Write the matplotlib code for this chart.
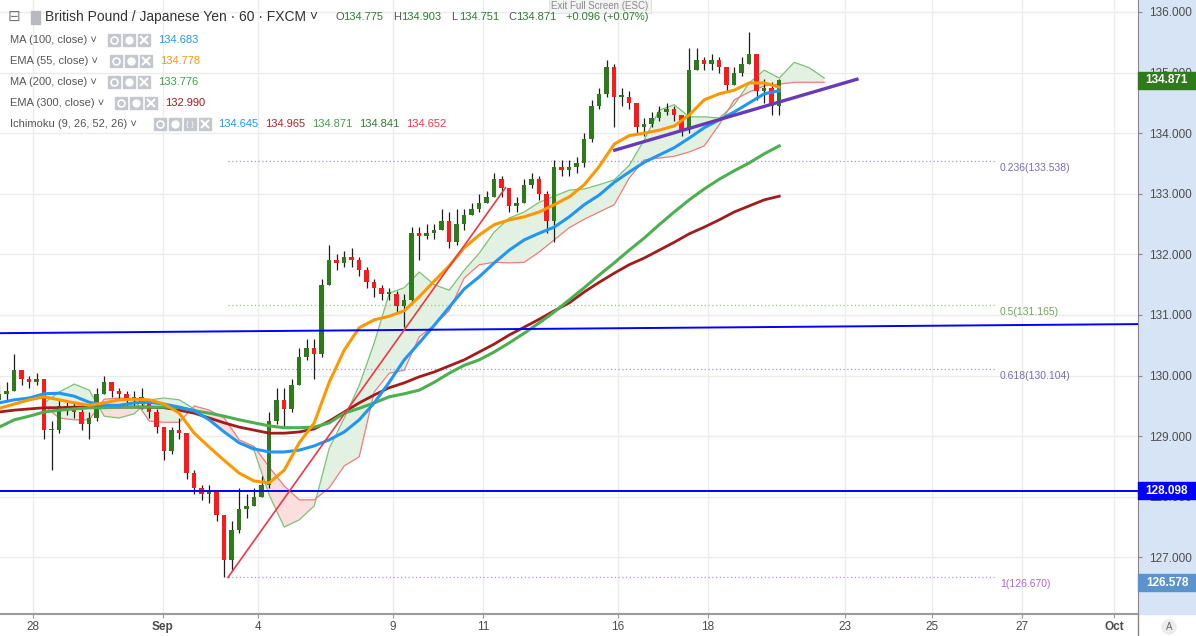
import numpy as np
import matplotlib.pyplot as plt
from matplotlib.patches import Rectangle
from matplotlib import transforms

plt.rcParams['font.family'] = ['Liberation Sans', 'DejaVu Sans']

W, H = 1196, 636

# GBP/JPY, grouped into 4 hour candles
# time is in trading days counted from Sep 4
bar_t0 = -5.75
bar_dt = 1 / 6
first_open = 129.60
close = [129.70, 129.75, 130.10, 129.95, 129.90, 129.95, 129.10, 129.10, 129.50, 129.45,
         129.40, 129.20, 129.30, 129.70, 129.90, 129.75, 129.70, 129.60, 129.65, 129.55,
         129.40, 129.15, 128.75, 129.10, 129.05, 128.40, 128.15, 128.05, 128.10, 127.70,
         126.95, 127.45, 127.80, 127.85, 128.00, 128.20, 129.25, 129.60, 129.45, 129.85,
         130.30, 130.45, 130.35, 131.50, 131.90, 131.85, 131.95, 131.90, 131.75, 131.55,
         131.45, 131.35, 131.35, 131.15, 131.25, 132.35, 132.30, 132.35, 132.40, 132.55,
         132.20, 132.50, 132.65, 132.75, 132.85, 132.95, 133.25, 133.10, 132.80, 132.85,
         133.15, 133.25, 133.00, 132.55, 133.45, 133.40, 133.45, 133.50, 133.90, 134.45,
         134.65, 135.10, 134.60, 134.60, 134.50, 134.10, 134.15, 134.25, 134.35, 134.40,
         134.30, 134.05, 135.05, 135.20, 135.15, 135.20, 135.10, 134.80, 135.00, 135.15,
         135.30, 134.70, 134.75, 134.45, 134.87]
high = [129.85, 129.90, 130.35, 130.10, 130.00, 130.05, 129.95, 129.25, 129.60, 129.60,
        129.55, 129.45, 129.40, 129.80, 130.00, 129.90, 129.80, 129.75, 129.75, 129.80,
        129.60, 129.45, 129.15, 129.15, 129.30, 129.05, 128.45, 128.20, 128.20, 128.10,
        127.70, 127.60, 128.15, 128.05, 128.15, 128.35, 129.40, 129.80, 129.80, 129.95,
        130.45, 130.60, 130.60, 131.60, 132.15, 132.00, 132.05, 132.10, 131.95, 131.80,
        131.60, 131.50, 131.45, 131.40, 131.35, 132.45, 132.45, 132.50, 132.50, 132.75,
        132.70, 132.75, 132.75, 132.85, 133.00, 133.05, 133.35, 133.30, 133.10, 132.95,
        133.25, 133.35, 133.30, 133.05, 133.55, 133.55, 133.55, 133.60, 134.00, 134.55,
        134.75, 135.20, 135.15, 134.75, 134.70, 134.45, 134.25, 134.35, 134.45, 134.50,
        134.45, 134.30, 135.40, 135.40, 135.25, 135.30, 135.25, 135.10, 135.10, 135.25,
        135.67, 135.30, 134.90, 134.85, 134.90]
low = [129.55, 129.60, 129.75, 129.85, 129.80, 129.85, 128.95, 128.45, 129.05, 129.35,
       129.30, 129.10, 128.95, 129.25, 129.70, 129.65, 129.60, 129.50, 129.50, 129.45,
       129.30, 129.05, 128.60, 128.70, 128.95, 128.30, 128.05, 127.95, 127.90, 127.60,
       126.67, 126.80, 127.40, 127.65, 127.85, 128.00, 128.15, 129.20, 129.15, 129.40,
       129.85, 130.25, 129.95, 130.30, 131.50, 131.75, 131.80, 131.80, 131.65, 131.45,
       131.30, 131.25, 131.25, 131.05, 130.80, 131.20, 131.90, 132.25, 132.25, 132.40,
       132.10, 132.15, 132.40, 132.65, 132.70, 132.85, 132.95, 132.95, 132.70, 132.70,
       132.85, 133.10, 132.90, 132.35, 132.20, 133.30, 133.30, 133.35, 133.45, 133.85,
       134.40, 134.60, 134.10, 134.45, 134.40, 134.00, 133.95, 134.10, 134.20, 134.30,
       134.20, 133.95, 134.00, 135.05, 135.05, 135.05, 135.00, 134.70, 134.80, 134.95,
       135.15, 134.55, 134.50, 134.30, 134.30]

# moving averages, one value every 8 hours from the first candle
ma_t0 = -5.75
ma_dt = 1 / 3
ma100 = [129.55, 129.60, 129.63, 129.70, 129.71, 129.66, 129.56, 129.51, 129.51, 129.55,
         129.56, 129.53, 129.48, 129.42, 129.27, 129.07, 128.89, 128.79, 128.74, 128.74,
         128.77, 128.84, 128.94, 129.07, 129.27, 129.55, 129.89, 130.26, 130.54, 130.83,
         131.13, 131.43, 131.63, 131.86, 132.07, 132.24, 132.35, 132.45, 132.62, 132.82,
         132.98, 133.19, 133.36, 133.52, 133.64, 133.76, 133.92, 134.09, 134.22, 134.35,
         134.50, 134.65, 134.70]
ema55 = [129.46, 129.53, 129.60, 129.65, 129.60, 129.55, 129.51, 129.55, 129.60, 129.61,
         129.60, 129.53, 129.38, 129.05, 128.82, 128.60, 128.39, 128.26, 128.23, 128.44,
         128.89, 129.22, 129.89, 130.42, 130.79, 130.92, 130.98, 131.07, 131.30, 131.56,
         131.81, 132.11, 132.32, 132.49, 132.57, 132.62, 132.70, 132.82, 132.95, 133.15,
         133.45, 133.82, 133.96, 134.00, 134.05, 134.12, 134.30, 134.55, 134.65, 134.71,
         134.83, 134.83, 134.76]
ma200 = [129.15, 129.27, 129.33, 129.40, 129.43, 129.45, 129.47, 129.47, 129.48, 129.48,
         129.48, 129.48, 129.47, 129.42, 129.38, 129.33, 129.27, 129.22, 129.17, 129.14,
         129.14, 129.15, 129.22, 129.38, 129.46, 129.55, 129.65, 129.70, 129.76, 129.89,
         130.04, 130.17, 130.26, 130.39, 130.54, 130.70, 130.87, 131.05, 131.25, 131.45,
         131.66, 131.86, 132.07, 132.27, 132.49, 132.70, 132.90, 133.08, 133.24, 133.38,
         133.51, 133.66, 133.79]
ema300 = [129.40, 129.43, 129.45, 129.47, 129.47, 129.48, 129.48, 129.48, 129.48, 129.48,
          129.48, 129.47, 129.43, 129.38, 129.30, 129.22, 129.15, 129.10, 129.05, 129.05,
          129.07, 129.12, 129.25, 129.40, 129.55, 129.68, 129.80, 129.88, 129.98, 130.06,
          130.16, 130.26, 130.39, 130.52, 130.67, 130.80, 130.93, 131.07, 131.20, 131.38,
          131.54, 131.69, 131.83, 131.94, 132.07, 132.20, 132.34, 132.45, 132.57, 132.70,
          132.80, 132.90, 132.96]

# ichimoku cloud spans (already displaced 26 bars ahead), every 8 hours
cloud_t0 = -4.75
cloud_dt = 1 / 3
span_a = [129.55, 129.73, 129.86, 129.76, 129.33, 129.30, 129.37, 129.60, 129.63, 129.60,
          129.45, 129.27, 129.07, 128.89, 128.76, 128.03, 127.50, 127.62, 127.85, 128.80,
          129.30, 129.84, 130.54, 131.36, 131.45, 131.71, 131.50, 131.41, 131.74, 132.02,
          132.37, 132.60, 132.70, 132.86, 132.96, 133.06, 133.08, 133.15, 133.23, 133.47,
          133.89, 134.38, 134.47, 134.27, 134.27, 134.25, 134.47, 134.83, 135.04, 134.91,
          135.17, 135.08, 134.91]
span_b = [129.50, 129.30, 129.27, 129.27, 129.61, 129.63, 129.61, 129.25, 129.23, 129.23,
          129.50, 129.43, 129.30, 128.94, 128.83, 128.49, 128.18, 127.95, 127.95, 128.15,
          128.51, 128.66, 129.73, 130.04, 130.09, 130.64, 130.83, 131.07, 131.61, 131.83,
          131.87, 131.86, 131.87, 132.04, 132.24, 132.44, 132.58, 132.70, 132.82, 133.26,
          133.56, 133.59, 133.62, 133.69, 133.79, 134.14, 134.55, 134.68, 134.78, 134.81,
          134.84, 134.84, 134.84]

# hand drawn objects on the chart
support = 128.098
alert_price = 126.578
last_price = 134.871
channel_pts = [(-5.73, 130.70), (19.56, 130.85)]
red_trend = ([-0.667, 5.5], [126.67, 133.1])
purple_trend = ([7.93, 13.31], [133.72, 134.89])
fib_low, fib_high = 126.670, 135.66
fib_ratios = [0.236, 0.5, 0.618, 1]
fib_text_colors = ['#7b6cb8', '#6aab55', '#7b6cb8', '#b063dc']
fib_line_colors = ['#a596d6', '#94cc80', '#a596d6', '#b690e6']
fib_span = (-0.667, 16.38)

price_ticks = [127, 128, 129, 130, 131, 132, 133, 134, 135, 136]
date_pos = [-5.0, -2.12, 0, 3, 5, 8, 10, 13.04, 14.98, 16.98, 19.02]
date_lbl = ['28', 'Sep', '4', '9', '11', '16', '18', '23', '25', '27', 'Oct']

legend_names = ['MA (100, close)', 'EMA (55, close)', 'MA (200, close)',
                'EMA (300, close)', 'Ichimoku (9, 26, 52, 26)']
legend_values = [['134.683'], ['134.778'], ['133.776'], ['132.990'],
                 ['134.645', '134.965', '134.871', '134.841', '134.652']]
legend_colors = [['#2196f3'], ['#ff9800'], ['#43a047'], ['#a31c1c'],
                 ['#2196f3', '#a52a2a', '#43a047', '#2e7d32', '#f23645']]

fig = plt.figure(figsize=(W / 100, H / 100), dpi=100)
ax = fig.add_axes([0, 22 / H, 1138 / W, 614 / H])
ax.set_xlim(-5.733, 19.556)
ax.set_ylim(126.066, 136.198)

# grid
ax.set_axisbelow(True)
ax.grid(True, color='#ececec', lw=1)

# cloud
ct = cloud_t0 + cloud_dt * np.arange(len(span_a))
a = np.array(span_a)
b = np.array(span_b)
ax.fill_between(ct, a, b, where=a >= b, interpolate=True, color='#e3f1e2', lw=0, zorder=1)
ax.fill_between(ct, a, b, where=a < b, interpolate=True, color='#fcdede', lw=0, zorder=1)
ax.plot(ct, a, color='#7cc275', lw=0.9, zorder=2)
ax.plot(ct, b, color='#f27b7b', lw=0.9, zorder=2)

# candles
t = bar_t0 + bar_dt * np.arange(len(close))
o = np.array([first_open] + close[:-1])
c = np.array(close)
body_col = np.where(c >= o, '#2e7a1c', '#ff1a1a')
ax.vlines(t, low, high, color='#1e1e1e', lw=0.9, zorder=3)
ax.bar(t, np.maximum(np.abs(c - o), 0.025), bottom=np.minimum(o, c),
       width=bar_dt * 0.6, color=body_col, lw=0, zorder=4)

# moving averages
mt = ma_t0 + ma_dt * np.arange(len(ma100))
ax.plot(mt, ema300, color='#a31c1c', lw=2.0, zorder=5)
ax.plot(mt, ma200, color='#4caf50', lw=2.2, zorder=5)
ax.plot(mt, ma100, color='#2196f3', lw=2.2, zorder=5)
ax.plot(mt, ema55, color='#ff9800', lw=2.2, zorder=5)

# drawings
ax.axhline(support, color='#0000ff', lw=1.4, zorder=6)
ax.axline(channel_pts[0], channel_pts[1], color='#0000ff', lw=1.4, zorder=6)
ax.plot(*red_trend, color='#f23645', lw=1.2, zorder=6)
ax.plot(*purple_trend, color='#673ab7', lw=2.4, zorder=6)
for r, tc, lc in zip(fib_ratios, fib_text_colors, fib_line_colors):
    lvl = fib_high - r * (fib_high - fib_low)
    ax.hlines(lvl, fib_span[0], fib_span[1], colors=lc, linestyles=(0, (1, 2)), lw=0.9, zorder=2)
    ax.text(16.49, lvl - 0.11, f'{r:g}({lvl:.3f})', color=tc, fontsize=7.5, va='center', zorder=6)

# axes look
for s in ['top', 'left']:
    ax.spines[s].set_visible(False)
ax.spines['right'].set_color('#888888')
ax.spines['bottom'].set_color('#9b9b9b')
ax.spines['bottom'].set_linewidth(1.5)
ax.yaxis.tick_right()
ax.set_yticks(price_ticks)
ax.set_yticklabels([f'{p:.3f}' for p in price_ticks])
ax.tick_params(axis='y', length=3, width=0.8, color='#888888', pad=5,
               labelsize=8.5, labelcolor='#4c4c4c')
ax.set_xticks(date_pos)
ax.set_xticklabels(date_lbl)
ax.tick_params(axis='x', length=3, width=0.8, color='#999999', pad=2,
               labelsize=8.5, labelcolor='#4c4c4c')
for lab in ax.get_xticklabels():
    if lab.get_text() in ('Sep', 'Oct'):
        lab.set_fontweight('bold')

fig.patches.append(Rectangle((1138 / W, 22 / H), 58 / W, 614 / H, transform=fig.transFigure,
                             color='#d6e4f6', zorder=-1))

# price boxes on the scale
bt = transforms.blended_transform_factory(ax.transAxes, ax.transData)
for val, colr in [(last_price, '#2f7a1d'), (support, '#0000ff'), (alert_price, '#5b93cf')]:
    ax.add_patch(Rectangle((1.0, val - 0.14), 58 / 1138, 0.28, transform=bt, color=colr,
                           clip_on=False, zorder=8))
    ax.text(1.0 + 29 / 1138, val, f'{val:.3f}', transform=bt, ha='center', va='center',
            color='white', fontsize=8.5, fontweight='bold', zorder=9, clip_on=False)

# overlay in pixel units for header and legend
ov = fig.add_axes([0, 0, 1, 1])
ov.set_xlim(0, W)
ov.set_ylim(H, 0)
ov.axis('off')
ov.plot([1138, 1138], [614, H], color='#888888', lw=1)

ov.text(600, 6, 'Exit Full Screen (ESC)', ha='center', va='center', fontsize=7, color='#8a8a8a',
        bbox=dict(boxstyle='square,pad=0.25', fc='#f3f3f3', ec='#dddddd', lw=0.6))
ov.text(14, 17, '\u229f', ha='center', va='center', fontsize=11, color='#777777')
ov.add_patch(Rectangle((31, 11), 9, 13, color='#b7bac1'))
ov.text(45, 17, 'British Pound / Japanese Yen \u00b7 60 \u00b7 FXCM \u02c5', va='center',
        fontsize=10, color='#333333')
ohlc = [('O', '134.775', 335), ('H', '134.903', 393), ('L', '134.751', 451), ('C', '134.871', 508)]
for letter, num, x in ohlc:
    ov.text(x, 17, letter, va='center', fontsize=8, color='#555555')
    ov.text(x + 8, 17, num, va='center', fontsize=8, color='#2e7d32')
ov.text(566, 17, '+0.096 (+0.07%)', va='center', fontsize=8, color='#2e7d32')

icon_x = [108, 110, 108, 115, 154]
value_x = [158, 160, 158, 165, 218]
for k, name in enumerate(legend_names):
    y = 40 + 21 * k
    ov.text(10, y, name + ' \u02c5', va='center', fontsize=8, color='#555555')
    n_icons = 4 if k == 4 else 3
    for j in range(n_icons):
        x0 = icon_x[k] + 15 * j
        ov.add_patch(Rectangle((x0, y - 6), 12, 12, color='#c4c7ce'))
        cx = x0 + 6
        if j == 0:
            ov.plot(cx, y, 'o', ms=5, mfc='none', mec='white', mew=1.2)
        elif j == 1:
            ov.plot(cx, y, 'o', ms=5, mfc='white', mec='white')
        elif j == n_icons - 1:
            ov.plot(cx, y, 'x', ms=6, mec='white', mew=1.5)
        else:
            ov.text(cx, y, '{ }', ha='center', va='center', fontsize=6, color='white')
    for j, (v, vc) in enumerate(zip(legend_values[k], legend_colors[k])):
        ov.text(value_x[k] + 47 * j, y, v, va='center', fontsize=8, color=vc)

ov.add_patch(plt.Circle((1169, 627), 7, color='#ececec'))
ov.text(1169, 627, 'A', ha='center', va='center', fontsize=7, color='#666666')

fig.savefig('out.png', dpi=100, facecolor='white')
